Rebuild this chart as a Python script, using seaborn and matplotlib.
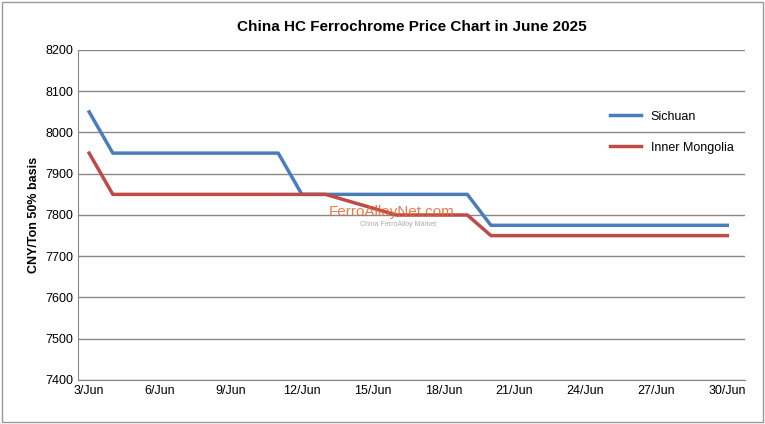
import matplotlib
matplotlib.use("Agg")
import matplotlib.pyplot as plt
import matplotlib.dates as mdates
import seaborn as sns
import pandas as pd

dates = ["2025-06-03","2025-06-04","2025-06-05","2025-06-06","2025-06-09","2025-06-10","2025-06-11",
         "2025-06-12","2025-06-13","2025-06-16","2025-06-17","2025-06-18","2025-06-19","2025-06-20",
         "2025-06-23","2025-06-24","2025-06-25","2025-06-26","2025-06-27","2025-06-30"]
sichuan = [8050,7950,7950,7950,7950,7950,7950,7850,7850,7850,7850,7850,7850,7775,7775,7775,7775,7775,7775,7775]
inner_mongolia = [7950,7850,7850,7850,7850,7850,7850,7850,7850,7800,7800,7800,7800,7750,7750,7750,7750,7750,7750,7750]
tick_labels = ["3/Jun","6/Jun","9/Jun","12/Jun","15/Jun","18/Jun","21/Jun","24/Jun","27/Jun","30/Jun"]
tick_dates = ["2025-06-03","2025-06-06","2025-06-09","2025-06-12","2025-06-15","2025-06-18","2025-06-21","2025-06-24","2025-06-27","2025-06-30"]

df = pd.DataFrame({"date": pd.to_datetime(dates), "Sichuan": sichuan, "Inner Mongolia": inner_mongolia})
long = df.melt("date", var_name="Region", value_name="Price")

plt.rcParams["font.family"] = "Liberation Sans"
fig = plt.figure(figsize=(7.65, 4.24), dpi=100)
ax = fig.add_axes([78/765, 44/424, 667/765, 330/424])
sns.lineplot(data=long, x="date", y="Price", hue="Region", palette=["#4a7ebb", "#be4b48"], linewidth=2.5, ax=ax)

ax.set_ylim(7400, 8200)
ax.set_yticks(range(7400, 8201, 100))
ax.set_xlim(pd.Timestamp("2025-06-02 12:40"), pd.Timestamp("2025-06-30 18:00"))
ax.set_xticks(pd.to_datetime(tick_dates))
ax.set_xticklabels(tick_labels)
ax.tick_params(labelsize=9, length=0)
ax.grid(axis="y", color="#888888", linewidth=1)
ax.set_axisbelow(True)
for s in ["top", "right"]:
    ax.spines[s].set_visible(False)
for s in ["left", "bottom"]:
    ax.spines[s].set_color("#888888")
ax.set_xlabel("")
ax.set_ylabel("CNY/Ton 50% basis", fontsize=9, fontweight="bold")
ax.set_title("China HC Ferrochrome Price Chart in June 2025", fontsize=11, fontweight="bold", pad=14)
ax.legend(title=None, frameon=False, fontsize=9, loc="upper right", bbox_to_anchor=(1.0, 0.85), handlelength=2.5, labelspacing=1.5)
fig.text(0.43, 0.49, "FerroAlloyNet.com", color="#e5652c", fontsize=11, alpha=0.85)
fig.text(0.47, 0.467, "China FerroAlloy Market", color="#aaaaaa", fontsize=5)
fig.patches.append(plt.Rectangle((0.003, 0.005), 0.994, 0.99, transform=fig.transFigure, fill=False, edgecolor="#999999", linewidth=1))
fig.savefig("out.png", dpi=100)
